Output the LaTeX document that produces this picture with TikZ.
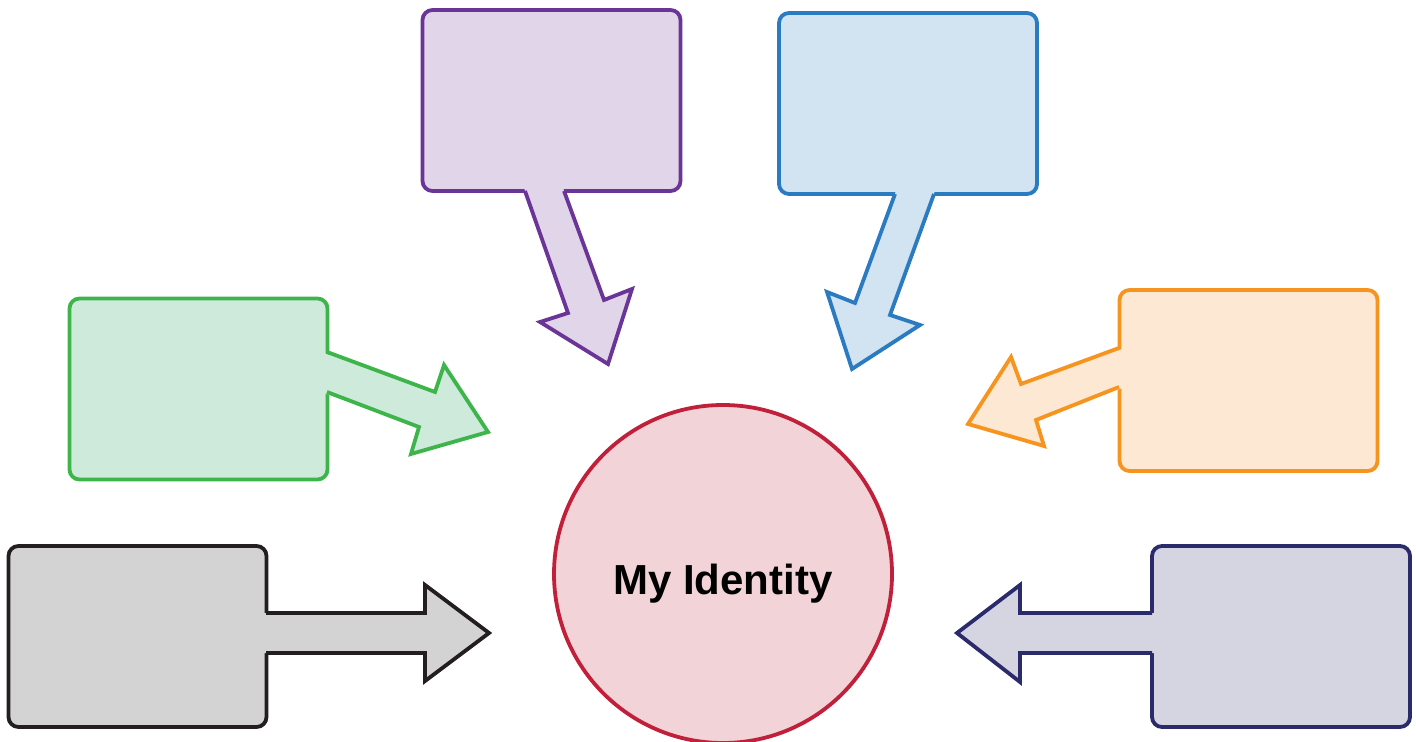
\documentclass[tikz,border=0pt]{standalone}
\usepackage{fontspec}
\setmainfont{Liberation Sans}
\usepackage{xcolor}
\usepackage{tikz}

\definecolor{violetLine}{HTML}{6A3597}
\definecolor{violetFill}{HTML}{E1D5E9}
\definecolor{skyLine}{HTML}{2A7BC0}
\definecolor{skyFill}{HTML}{D2E3F1}
\definecolor{leafLine}{HTML}{3DB54A}
\definecolor{leafFill}{HTML}{CDEADB}
\definecolor{amberLine}{HTML}{F7941D}
\definecolor{amberFill}{HTML}{FCE8D3}
\definecolor{slateLine}{HTML}{231F20}
\definecolor{slateFill}{HTML}{D3D3D3}
\definecolor{inkLine}{HTML}{2B2A6B}
\definecolor{inkFill}{HTML}{D5D5E1}
\definecolor{coreLine}{HTML}{C0203A}
\definecolor{coreFill}{HTML}{F2D3D8}

\begin{document}
\begin{tikzpicture}[
    x=0.5pt, y=-0.5pt,
    card/.style={draw,rounded corners=5pt,line width=1.9pt,minimum width=129pt,minimum height=90.5pt},
    shaft/.style={line width=1.9pt,line join=miter}
  ]
    \useasboundingbox (0,0) rectangle (1416,742);

    % centre circle
    \node[circle,draw=coreLine,fill=coreFill,line width=1.9pt,minimum size=169pt] (self) at (723,574) {};
    \node[font=\fontsize{21}{25}\selectfont\bfseries,yshift=-5pt] (title) at (self.center) {My Identity};

    % top left: arrow pointing down
    \node[card,draw=violetLine,fill=violetFill] (violet) at (551.5,100.5) {};
    \fill[violetFill] (523,185) -- (568,313) -- (540,322) -- (608,364) -- (632,289) -- (604,300) -- (562,185) -- cycle;
    \draw[shaft,violetLine] (525,191) -- (568,313) -- (540,322) -- (608,364) -- (632,289) -- (604,300) -- (564,191);

    % top right
    \node[card,draw=skyLine,fill=skyFill] (sky) at (908,103.5) {};
    \fill[skyFill] (897,188) -- (855,303) -- (827,292) -- (852,369) -- (920,325) -- (890,315) -- (936,188) -- cycle;
    \draw[shaft,skyLine] (895,194) -- (855,303) -- (827,292) -- (852,369) -- (920,325) -- (890,315) -- (934,194);

    % middle left
    \node[card,draw=leafLine,fill=leafFill] (leaf) at (198.5,389) {};
    \fill[leafFill] (321,352) -- (435,392) -- (444,365) -- (488,432) -- (411,454) -- (419,427) -- (321,392) -- cycle;
    \draw[shaft,leafLine] (327,352) -- (435,392) -- (444,365) -- (488,432) -- (411,454) -- (419,427) -- (327,392);

    % middle right
    \node[card,draw=amberLine,fill=amberFill] (amber) at (1248.5,380.5) {};
    \fill[amberFill] (1125,348) -- (1021,384) -- (1011,357) -- (968,424) -- (1044,446) -- (1036,420) -- (1125,387) -- cycle;
    \draw[shaft,amberLine] (1119,348) -- (1021,384) -- (1011,357) -- (968,424) -- (1044,446) -- (1036,420) -- (1119,387);

    % bottom left
    \node[card,draw=slateLine,fill=slateFill] (slate) at (137.5,636.5) {};
    \fill[slateFill] (260,613) -- (425,613) -- (425,585) -- (489,633) -- (425,681) -- (425,653) -- (260,653) -- cycle;
    \draw[shaft,slateLine] (266,613) -- (425,613) -- (425,585) -- (489,633) -- (425,681) -- (425,653) -- (266,653);

    % bottom right
    \node[card,draw=inkLine,fill=inkFill] (ink) at (1281,636.5) {};
    \fill[inkFill] (1158,613) -- (1020,613) -- (1020,585) -- (957,633) -- (1020,682) -- (1020,653) -- (1158,653) -- cycle;
    \draw[shaft,inkLine] (1152,613) -- (1020,613) -- (1020,585) -- (957,633) -- (1020,682) -- (1020,653) -- (1152,653);
  \end{tikzpicture}
\end{document}
